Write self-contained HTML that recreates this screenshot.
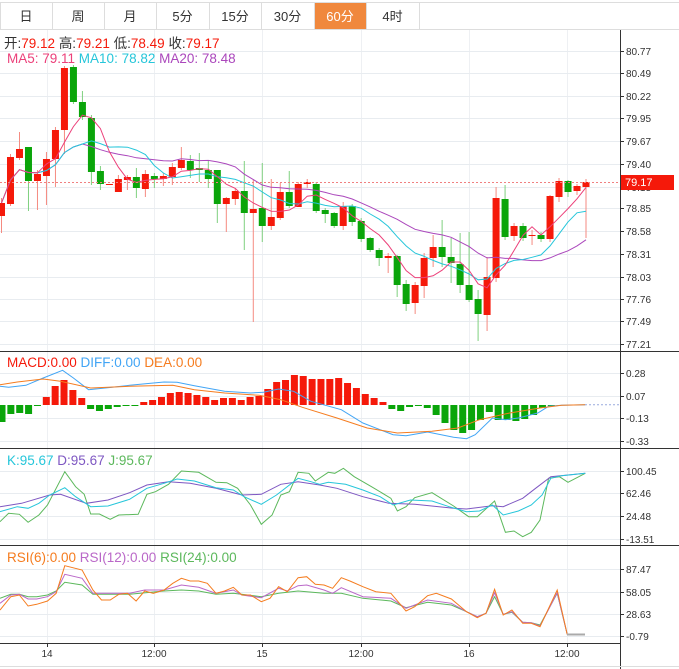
<!DOCTYPE html>
<html><head><meta charset="utf-8">
<style>
body{margin:0;background:#fff;width:679px;height:669px;overflow:hidden;font-family:"Liberation Sans","Noto Sans CJK SC",sans-serif;}
svg{position:absolute;left:0;top:0}
text{font-family:"Liberation Sans","Noto Sans CJK SC",sans-serif}
</style></head><body>
<svg id="s" width="679" height="669" xmlns="http://www.w3.org/2000/svg"></svg>
<script>
const S=document.getElementById('s');let h='';
function L(x1,y1,x2,y2,c,w,d){h+=`<line x1="${x1}" y1="${y1}" x2="${x2}" y2="${y2}" stroke="${c}" stroke-width="${w||1}" ${d?'stroke-dasharray="'+d+'"':''}/>`;}
function R(x,y,w,hh,c){h+=`<rect x="${x}" y="${y}" width="${w}" height="${Math.max(hh,1)}" fill="${c}"/>`;}
function T(x,y,t,c,sz,a){h+=`<text x="${x}" y="${y}" fill="${c}" font-size="${sz||12}" ${a?'text-anchor="'+a+'"':''}>${t}</text>`;}
function P(pts,c,w){h+=`<polyline fill="none" stroke="${c}" stroke-width="${w||1}" points="${pts.map(p=>p[0].toFixed(1)+','+p[1].toFixed(1)).join(' ')}"/>`;}
// tabs
L(0,2.5,679,2.5,'#ddd');L(0,29.5,679,29.5,'#ddd');
const tabs=['日','周','月','5分','15分','30分','60分','4时'];const tb=[0,52,104,156,209,261,314,366,419];
R(314,3,52,26,'#f0883d');
for(let i=0;i<8;i++){L(tb[i+1]+.5,3,tb[i+1]+.5,29,'#ddd');T((tb[i]+tb[i+1])/2,21,tabs[i],i==6?'#fff':'#333',13,'middle');}
L(0.5,3,0.5,29,'#ddd');
// grids
const vx=[47,154,262,361,469,567];
function vgrid(y1,y2){vx.forEach(x=>L(x+.5,y1,x+.5,y2,'#eef0f3'));}
vgrid(30,643);
L(620.5,30,620.5,669,'#333');
[351,448,545].forEach(y=>L(0,y+.5,679,y+.5,'#333'));
L(0,643.5,620,643.5,'#333');L(0,666.5,679,666.5,'#ddd');
// main axis
const ml=[['80.77',51],['80.49',73],['80.22',96],['79.95',118],['79.67',141],['79.40',164],['79.13',187],['78.85',208],['78.58',231],['78.31',254],['78.03',277],['77.76',299],['77.49',321],['77.21',344]];
ml.forEach(([t,y])=>{L(0,y+.5,620,y+.5,'#e8ecf0');L(620,y+.5,624,y+.5,'#333');T(626,y+4,t,'#333',10);});
// candles [top,bottom,high,low,color r/g]
const C=[[203,216,198,233,'r'],[157,204,154,206,'r'],[149,158,132,160,'r'],[147,181,147,211,'g'],[174,181,170,210,'r'],[159,176,152,205,'r'],[130,159,127,187,'r'],[68,130,66,154,'r'],[67,102,65,104,'g'],[102,117,91,120,'g'],[118,172,115,185,'g'],
[171,184,166,190,'g'],[184,185,184,185,'r'],[179,192,175,192,'r'],[177,180,175,190,'r'],[177,188,168,198,'g'],[174,189,170,197,'r'],[176,179,173,188,'g'],[176,179,173,186,'r'],[167,177,163,185,'r'],[160,168,147,170,'r'],[161,170,155,178,'g'],[168,170,153,182,'g'],[170,179,161,188,'g'],[170,204,170,223,'g'],[198,204,197,232,'r'],[191,199,188,205,'r'],[191,213,161,250,'g'],[209,213,180,322,'r'],[208,226,163,242,'g'],[217,226,179,230,'r'],[192,218,183,220,'r'],[192,206,171,208,'g'],[184,207,182,207,'r'],[182,184,179,188,'r'],[184,211,182,213,'g'],[210,214,208,223,'g'],[213,226,212,228,'g'],[206,226,202,230,'r'],[206,222,204,226,'g'],[221,239,218,242,'g'],[238,250,237,252,'g'],[250,258,248,266,'g'],[256,258,253,273,'r'],[256,285,255,297,'g'],[284,304,280,311,'g'],[285,303,282,314,'r'],[258,286,253,298,'r'],[247,258,235,267,'r'],[247,257,220,267,'g'],[257,263,238,283,'g'],[264,285,233,293,'g'],[285,300,232,302,'g'],[299,314,290,341,'g'],[277,315,257,331,'r'],[198,278,187,282,'r'],[199,237,185,240,'g'],[226,236,223,241,'r'],[226,238,223,241,'g'],[235,236,230,245,'r'],[235,239,232,242,'g'],[196,239,195,242,'r'],[181,197,178,202,'r'],[181,192,180,197,'g'],[186,191,184,195,'r'],[182,187,179,238,'r']];
const N=C.length;const cx=i=>1.5+i*(586-1.5)/(N-1);
const closes=C.map(c=>c[4]=='r'?c[0]:c[1]);
C.forEach((c,i)=>{const col=c[4]=='r'?'#f5190a':'#0aa50a';const wc=c[4]=='r'?'#f58a80':'#7fd07f';const x=cx(i);L(x,c[2],x,c[3],wc);R(x-3.5,c[0],7,c[1]-c[0],col);});
function ma(n){return closes.map((v,i)=>{const s=closes.slice(Math.max(0,i-n+1),i+1);return [cx(i),s.reduce((a,b)=>a+b,0)/s.length];});}
P(ma(20),'#ab47bc');P(ma(10),'#26c6da');P(ma(5),'#ec407a');
L(0,182.5,620,182.5,'#f08080',1,'2,2');
R(621,175,53,15,'#f5190a');T(625,186,'79.17','#fff',11);
h+=`<text x="4" y="48" font-size="13.5"><tspan fill="#333">开:</tspan><tspan fill="#f5190a">79.12 </tspan><tspan fill="#333"> 高:</tspan><tspan fill="#f5190a">79.21 </tspan><tspan fill="#333"> 低:</tspan><tspan fill="#f5190a">78.49 </tspan><tspan fill="#333"> 收:</tspan><tspan fill="#f5190a">79.17</tspan></text>`;
h+=`<text x="7" y="63" font-size="13.5"><tspan fill="#ec407a">MA5: 79.11 </tspan><tspan fill="#26c6da"> MA10: 78.82 </tspan><tspan fill="#ab47bc"> MA20: 78.48</tspan></text>`;
// MACD
[['0.28',373],['0.07',396],['-0.13',418],['-0.33',441]].forEach(([t,y])=>{L(0,y+.5,620,y+.5,'#e8ecf0');L(620,y+.5,624,y+.5,'#333');T(626,y+4,t,'#333',10);});
const z=405;const mb=[-17,-9,-8,-9,-1,8,19,25,15,7,-4,-6,-4,-2,-1,-0.5,3,5,8,12,13,12,10,8,5,7,7,5,8,9,16,23,25,30,29,26,26,26,27,22,17,11,7,3,-4,-6,-2,-0.5,-3,-10,-18,-25,-28,-25,-15,-7,-15,-15,-16,-14,-10,-3,-1];
const bx=i=>2+i*8.86;
mb.forEach((v,i)=>{if(v>0)R(bx(i)-3.5,z-v,7,v,'#f5190a');else R(bx(i)-3.5,z,7,-v,'#0aa50a');});
const sc=(arr,y0)=>arr.map(p=>[p[0]/2.315,y0+p[1]/3]);
P(sc([[0,115],[20,118],[60,112],[100,90],[145,67],[170,90],[205,125],[260,118],[300,112],[380,102],[410,103],[450,113],[520,130],[580,135],[610,133],[645,123],[680,130],[720,160],[790,185],[840,225],[880,245],[910,260],[940,263],[990,252],[1050,268],[1080,272],[1100,260],[1140,210],[1170,215],[1200,210],[1245,195],[1270,175],[1300,172],[1355,170]],348),'#42a5f5');
P(sc([[0,110],[40,102],[100,93],[140,100],[210,120],[300,115],[400,112],[450,125],[520,135],[600,142],[650,155],[700,178],[780,210],[850,240],[920,255],[1000,250],[1060,240],[1110,215],[1180,195],[1250,180],[1300,172],[1355,170]],348),'#f57c1f');
L(585,404.7,620,404.7,'#9ad',1,'2,2');
h+=`<text x="7" y="367" font-size="13.5"><tspan fill="#f5190a">MACD:0.00 </tspan><tspan fill="#42a5f5"> DIFF:0.00 </tspan><tspan fill="#f57c1f"> DEA:0.00</tspan></text>`;
// KDJ
[['100.45',471],['62.46',493],['24.48',516],['-13.51',539]].forEach(([t,y])=>{L(0,y+.5,620,y+.5,'#e8ecf0');L(620,y+.5,624,y+.5,'#333');T(626,y+4,t,'#333',10);});
P(sc([[0,230],[20,205],[45,208],[65,232],[90,210],[110,180],[150,80],[175,125],[195,148],[210,207],[230,207],[255,223],[275,210],[320,208],[340,148],[360,140],[390,118],[420,78],[460,82],[500,112],[525,113],[550,130],[580,180],[605,238],[630,210],[650,150],[670,140],[690,82],[715,85],[730,108],[760,82],[775,85],[795,70],[820,95],[860,125],[905,160],[920,198],[940,185],[960,158],[1000,143],[1050,183],[1085,215],[1105,215],[1145,168],[1170,262],[1190,258],[1210,275],[1230,262],[1250,225],[1270,100],[1295,95],[1315,112],[1355,85]],445),'#5cb85c');
P(sc([[0,185],[50,175],[115,150],[140,148],[200,175],[250,165],[300,143],[340,120],[390,110],[440,115],[500,130],[560,150],[605,148],[650,118],[690,110],[740,120],[780,130],[840,155],[900,175],[960,178],[1050,190],[1080,192],[1140,182],[1165,185],[1210,160],[1240,130],[1275,95],[1355,85]],445),'#7e57c2');
P(sc([[0,200],[40,185],[65,190],[90,175],[115,150],[150,128],[175,155],[210,185],[250,183],[300,163],[340,130],[380,115],[410,102],[450,108],[500,128],[540,135],[565,155],[605,178],[640,150],[690,100],[720,110],[740,118],[760,112],[800,118],[840,135],[880,155],[910,180],[950,165],[1000,168],[1040,185],[1080,200],[1110,198],[1140,180],[1165,210],[1200,198],[1230,180],[1255,150],[1275,100],[1300,92],[1355,85]],445),'#26c6da');
h+=`<text x="7" y="465" font-size="13.5"><tspan fill="#26c6da">K:95.67 </tspan><tspan fill="#7e57c2"> D:95.67 </tspan><tspan fill="#5cb85c"> J:95.67</tspan></text>`;
// RSI
[['87.47',569],['58.05',592],['28.63',614],['-0.79',636]].forEach(([t,y])=>{L(0,y+.5,620,y+.5,'#e8ecf0');L(620,y+.5,624,y+.5,'#333');T(626,y+4,t,'#333',10);});
P(sc([[0,160],[25,148],[45,148],[65,155],[85,155],[110,150],[130,138],[150,112],[190,120],[215,148],[300,148],[380,138],[420,135],[460,138],[500,148],[540,145],[605,155],[645,145],[690,138],[750,145],[790,145],[840,160],[905,168],[940,188],[990,172],[1045,180],[1080,200],[1105,215],[1125,205],[1145,155],[1165,208],[1185,202],[1210,232],[1230,233],[1250,240],[1290,145],[1313,268]],545),'#5cb85c');
P(sc([[0,175],[25,150],[45,148],[65,162],[85,162],[110,155],[130,140],[150,88],[190,100],[215,145],[300,145],[335,135],[380,135],[420,120],[460,127],[500,145],[540,135],[560,150],[605,158],[645,130],[665,138],[690,122],[710,120],[750,135],[770,145],[790,128],[840,155],[905,160],[940,190],[990,165],[1045,175],[1080,200],[1105,215],[1125,205],[1145,143],[1165,208],[1185,200],[1210,232],[1230,233],[1250,243],[1290,143],[1313,268]],545),'#ba68c8');
P(sc([[0,195],[25,155],[45,150],[65,183],[85,178],[110,168],[130,145],[150,62],[190,75],[215,135],[235,165],[255,165],[275,148],[295,145],[315,168],[335,138],[355,145],[380,135],[400,115],[420,100],[440,108],[460,108],[480,115],[500,145],[520,138],[540,127],[560,150],[580,150],[605,170],[625,160],[645,125],[665,140],[690,98],[710,95],[730,118],[750,120],[770,130],[790,98],[810,108],[840,125],[870,140],[905,145],[940,198],[960,185],[990,152],[1010,145],[1045,162],[1080,200],[1105,218],[1125,205],[1145,133],[1165,210],[1185,195],[1210,235],[1230,235],[1250,245],[1290,135],[1313,268]],545),'#f57c1f');
L(567,634.5,585,634.5,'#aaa',2);
h+=`<text x="7" y="562" font-size="13.5"><tspan fill="#f57c1f">RSI(6):0.00 </tspan><tspan fill="#ba68c8"> RSI(12):0.00 </tspan><tspan fill="#5cb85c"> RSI(24):0.00</tspan></text>`;
// dates
[['14',47],['12:00',154],['15',262],['12:00',361],['16',469],['12:00',567]].forEach(([t,x])=>{L(x+.5,643,x+.5,647,'#333');T(x,657,t,'#333',10,'middle');});
S.innerHTML=h;
</script>
</body></html>
